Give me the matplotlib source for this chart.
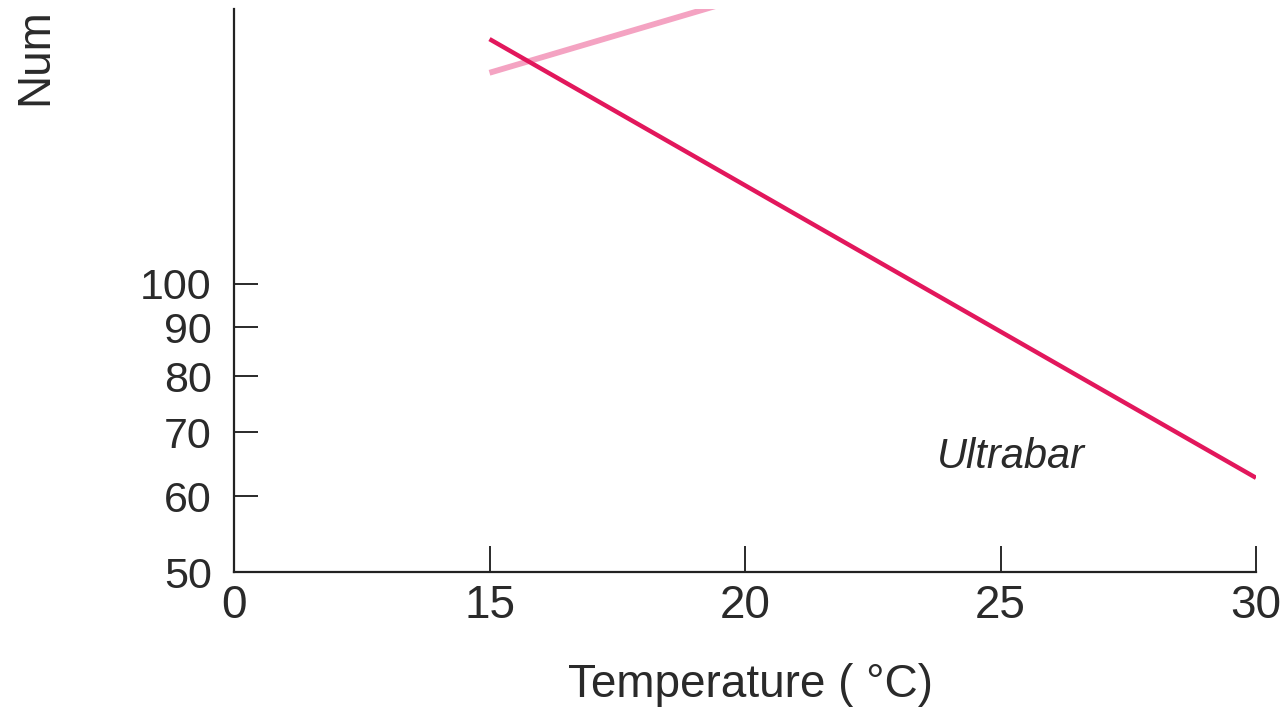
import matplotlib
matplotlib.use("Agg")
import matplotlib.pyplot as plt
from matplotlib.ticker import FixedLocator, FixedFormatter, NullLocator

# Data
ultrabar_temp = [15, 30]
ultrabar_num = [180, 62.7]
other_temp = [15, 20]
other_num = [166, 199]

xtick_pos = [10, 15, 20, 25, 30]
xtick_labels = ["0", "15", "20", "25", "30"]
ytick_pos = [50, 60, 70, 80, 90, 100]
ytick_labels = ["50", "60", "70", "80", "90", "100"]

plt.rcParams['font.family'] = ['Liberation Sans', 'DejaVu Sans']

W, H = 1282, 710
fig = plt.figure(figsize=(W / 100, H / 100), dpi=100)
left, right, bottom, top = 234, 1256, 572, 9
ax = fig.add_axes([left / W, (H - bottom) / H, (right - left) / W, (bottom - top) / H])

ax.set_yscale('log')
ax.set_xlim(10, 30)
ax.set_ylim(50, 193.5)

ax.plot(other_temp, other_num, color='#f4a3c2', lw=4.2, solid_capstyle='butt')
ax.plot(ultrabar_temp, ultrabar_num, color='#e2175c', lw=3.2, solid_capstyle='butt')

ax.text(25.2, 65.9, "Ultrabar", fontsize=30, style='italic', color='#2a2a2a',
        ha='center', va='center')

for s in ['top', 'right']:
    ax.spines[s].set_visible(False)
for s in ['left', 'bottom']:
    ax.spines[s].set_linewidth(1.6)
    ax.spines[s].set_color('#222222')

ax.xaxis.set_major_locator(FixedLocator(xtick_pos))
ax.xaxis.set_major_formatter(FixedFormatter(xtick_labels))
ax.yaxis.set_major_locator(FixedLocator(ytick_pos))
ax.yaxis.set_major_formatter(FixedFormatter(ytick_labels))
ax.yaxis.set_minor_locator(NullLocator())

ax.tick_params(axis='x', direction='in', length=19, width=1.4, pad=9,
               labelsize=33, colors='#2a2a2a')
ax.tick_params(axis='y', direction='in', length=17, width=1.4, pad=16,
               labelsize=31, colors='#2a2a2a')

ax.set_xlabel("Temperature ( °C)", fontsize=33, color='#2a2a2a')
ax.xaxis.set_label_coords((751 - left) / (right - left), -(663 - bottom) / (bottom - top))
ax.xaxis.label.set_va('top')

fig.text(35 / W, (H - 105) / H, "Num", rotation=90, rotation_mode='anchor',
         ha='left', va='center', fontsize=33, color='#2a2a2a')

fig.savefig("out.png", dpi=100, facecolor='white')
